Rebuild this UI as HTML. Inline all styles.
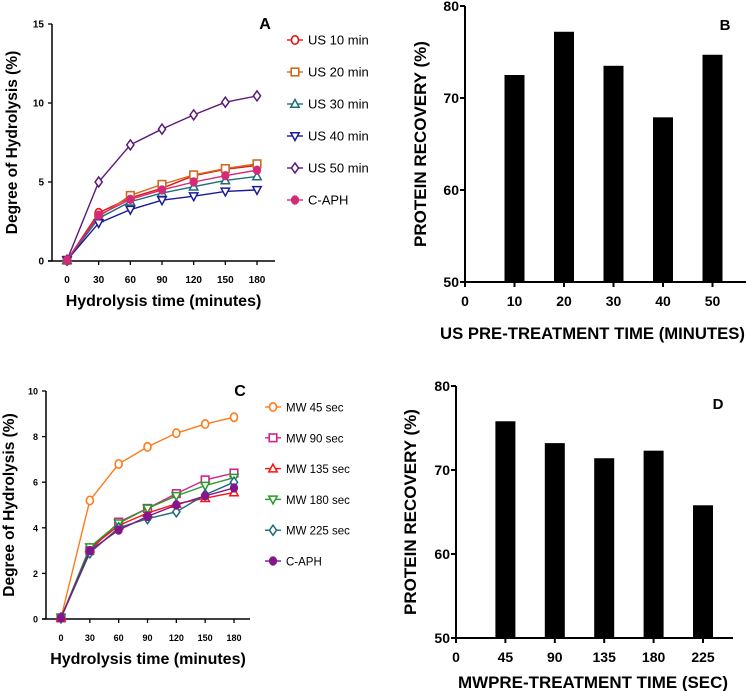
<!DOCTYPE html>
<html><head><meta charset="utf-8">
<style>
html,body{margin:0;padding:0;background:#fff;}
svg{display:block;font-family:"Liberation Sans",Arial,sans-serif;}
</style></head>
<body>
<svg id="fig" width="747" height="691" viewBox="0 0 747 691" xmlns="http://www.w3.org/2000/svg"></svg>
<script>
const timeCats = [0, 30, 60, 90, 120, 150, 180];
const us10 = [0.05, 3.05, 4.0, 4.6, 5.4, 5.8, 6.05];
const us20 = [0.05, 2.8, 4.15, 4.85, 5.45, 5.85, 6.15];
const us30 = [0.05, 2.7, 3.75, 4.3, 4.7, 5.1, 5.35];
const us40 = [0.05, 2.4, 3.25, 3.85, 4.1, 4.4, 4.5];
const us50 = [0.05, 5.0, 7.35, 8.35, 9.25, 10.05, 10.45];
const usCaph = [0.05, 2.9, 3.9, 4.5, 5.0, 5.4, 5.75];
const mw45 = [0.05, 5.2, 6.8, 7.55, 8.15, 8.55, 8.85];
const mw90 = [0.05, 3.0, 4.25, 4.85, 5.5, 6.1, 6.4];
const mw135 = [0.05, 3.1, 4.1, 4.65, 5.05, 5.3, 5.55];
const mw180 = [0.05, 3.15, 4.2, 4.85, 5.4, 5.85, 6.2];
const mw225 = [0.05, 2.9, 4.0, 4.4, 4.7, 5.45, 6.0];
const mwCaph = [0.05, 3.0, 3.9, 4.5, 5.0, 5.4, 5.75];
const yTicksA = [0, 5, 10, 15];
const yTicksC = [0, 2, 4, 6, 8, 10];
const usCats = [10, 20, 30, 40, 50];
const usRecovery = [72.5, 77.2, 73.5, 67.9, 74.7];
const mwCats = [45, 90, 135, 180, 225];
const mwRecovery = [75.8, 73.2, 71.4, 72.3, 65.8];
const recTicks = [50, 60, 70, 80];

const NS = "http://www.w3.org/2000/svg";
const svg = document.getElementById('fig');
function mk(tag, attrs, parent, text) {
  const e = document.createElementNS(NS, tag);
  for (const k in attrs) e.setAttribute(k, attrs[k]);
  if (text !== undefined) e.textContent = text;
  (parent || svg).appendChild(e);
  return e;
}
function txt(x, y, s, size, anchor, parent, extra) {
  const a = {x: x, y: y, 'font-size': size, 'font-weight': 'bold', 'text-anchor': anchor || 'middle', fill: '#000'};
  if (extra) for (const k in extra) a[k] = extra[k];
  return mk('text', a, parent, s);
}
function marker(g, shape, x, y, color, filled) {
  const f = filled ? color : '#fff';
  let e;
  if (shape === 'circle') e = mk('ellipse', {cx: x, cy: y, rx: 3.5, ry: 4.2, fill: f, stroke: color, 'stroke-width': 1.6}, g);
  else if (shape === 'square') e = mk('rect', {x: x - 3.8, y: y - 3.8, width: 7.6, height: 7.6, fill: f, stroke: color, 'stroke-width': 1.6}, g);
  else if (shape === 'tri') e = mk('polygon', {points: `${x},${y-4.5} ${x+4.2},${y+3.3} ${x-4.2},${y+3.3}`, fill: f, stroke: color, 'stroke-width': 1.5}, g);
  else if (shape === 'itri') e = mk('polygon', {points: `${x},${y+4.5} ${x+4.2},${y-3.3} ${x-4.2},${y-3.3}`, fill: f, stroke: color, 'stroke-width': 1.5}, g);
  else if (shape === 'diamond') e = mk('polygon', {points: `${x},${y-5} ${x+3.6},${y} ${x},${y+5} ${x-3.6},${y}`, fill: f, stroke: color, 'stroke-width': 1.5}, g);
  else e = mk('ellipse', {cx: x, cy: y, rx: 3.6, ry: 4.2, fill: color, stroke: color, 'stroke-width': 1}, g);
  
  
}

function lineChart(cfg) {
  const g = mk('g', {}); 
  
  
  const xS = v => cfg.x0 + (v - 0) / 180 * (cfg.x180 - cfg.x0);
  const yS = v => cfg.y0 + v / cfg.ymax * (cfg.ytop - cfg.y0);
  const ya = mk('line', {x1: cfg.ax, y1: cfg.ytop, x2: cfg.ax, y2: cfg.y0, stroke: '#000', 'stroke-width': 1.5}, g);
   
  const xa = mk('line', {x1: cfg.ax - 4, y1: cfg.y0, x2: cfg.xend, y2: cfg.y0, stroke: '#000', 'stroke-width': 1.5}, g);
   
  cfg.yticks.forEach(t => {
    mk('line', {x1: cfg.ax - 4, y1: yS(t), x2: cfg.ax, y2: yS(t), stroke: '#000', 'stroke-width': 1.3}, g);
    const l = txt(cfg.ax - 8, yS(t) + 3.5, String(t), cfg.tfs, 'end', g);
     
  });
  timeCats.forEach(t => {
    mk('line', {x1: xS(t), y1: cfg.y0, x2: xS(t), y2: cfg.y0 + 4, stroke: '#000', 'stroke-width': 1.3}, g);
    const l = txt(xS(t), cfg.y0 + 22, String(t), cfg.tfs, 'middle', g);
     
  });
  const xt = txt((cfg.ax + cfg.xend) / 2, cfg.y0 + 45, 'Hydrolysis time (minutes)', 16, 'middle', g);
   
  const yt = txt(0, 0, 'Degree of Hydrolysis (%)', 15.5, 'middle', g, {transform: `translate(${cfg.ytx},${(cfg.ytop + cfg.y0) / 2}) rotate(-90)`});
   
  const pl = txt(cfg.panelX, cfg.panelY, cfg.panel, 16, 'middle', g);
   
  cfg.series.forEach((s, i) => {
    const sg = mk('g', {}, g);
    
    
    const pts = s.data.map((v, j) => xS(timeCats[j]) + ',' + yS(v)).join(' ');
    const pln = mk('polyline', {points: pts, fill: 'none', stroke: s.color, 'stroke-width': 1.4}, sg);
     
    s.data.forEach((v, j) => marker(sg, s.shape, xS(timeCats[j]), yS(v), s.color, s.shape === 'dot'));
    const lg = mk('g', {}, g);
    
    
    const ly = cfg.legY + i * cfg.legDy;
    mk('line', {x1: cfg.legX - 8, y1: ly, x2: cfg.legX + 8, y2: ly, stroke: s.color, 'stroke-width': 1.4}, lg);
    marker(lg, s.shape, cfg.legX, ly, s.color, s.shape === 'dot');
    mk('text', {x: cfg.legX + 13, y: ly + 4.5, 'font-size': cfg.lfs, fill: '#000'}, lg, s.label);
  });
}

lineChart({name: 'chart-a-us-hydrolysis', ax: 52, x0: 67, x180: 257, xend: 275, y0: 261, ytop: 24, ymax: 15,
  yticks: yTicksA, tfs: 10, ytx: 17, panel: 'A', panelX: 265, panelY: 29, legX: 295, legY: 40, legDy: 32, lfs: 13,
  series: [
    {label: 'US 10 min', data: us10, color: '#ee1111', shape: 'circle'},
    {label: 'US 20 min', data: us20, color: '#cc6a1f', shape: 'square'},
    {label: 'US 30 min', data: us30, color: '#1e6e78', shape: 'tri'},
    {label: 'US 40 min', data: us40, color: '#1b1b99', shape: 'itri'},
    {label: 'US 50 min', data: us50, color: '#5b1a78', shape: 'diamond'},
    {label: 'C-APH', data: usCaph, color: '#d42a7a', shape: 'dot'}
  ]});
lineChart({name: 'chart-c-mw-hydrolysis', ax: 46, x0: 61, x180: 234, xend: 250, y0: 619, ytop: 391, ymax: 10,
  yticks: yTicksC, tfs: 9, ytx: 14, panel: 'C', panelX: 240, panelY: 396, legX: 273, legY: 407, legDy: 30.8, lfs: 11.5,
  series: [
    {label: 'MW 45 sec', data: mw45, color: '#ff7a1a', shape: 'circle'},
    {label: 'MW 90 sec', data: mw90, color: '#d0258a', shape: 'square'},
    {label: 'MW 135 sec', data: mw135, color: '#ff1111', shape: 'tri'},
    {label: 'MW 180 sec', data: mw180, color: '#2a9a2a', shape: 'itri'},
    {label: 'MW 225 sec', data: mw225, color: '#1e6a78', shape: 'diamond'},
    {label: 'C-APH', data: mwCaph, color: '#82168a', shape: 'dot'}
  ]});

function barChart(cfg) {
  const g = mk('g', {});
  
  
  const yS = v => cfg.y0 + (v - 50) / 30 * (cfg.ytop - cfg.y0);
  const xS = i => cfg.ax + (i + 1) * cfg.step;
  const ya = mk('line', {x1: cfg.ax, y1: cfg.ytop, x2: cfg.ax, y2: cfg.y0, stroke: '#000', 'stroke-width': 2}, g);
   
  cfg.values.forEach((v, i) => {
    const b = mk('rect', {x: xS(i) - 10, y: yS(v), width: 20, height: cfg.y0 - yS(v), fill: '#000'}, g);
    
    
  });
  const xa = mk('line', {x1: cfg.ax - 5, y1: cfg.y0, x2: cfg.xend, y2: cfg.y0, stroke: '#000', 'stroke-width': 2}, g);
   
  recTicks.forEach(t => {
    mk('line', {x1: cfg.ax - 5, y1: yS(t), x2: cfg.ax, y2: yS(t), stroke: '#000', 'stroke-width': 2}, g);
    const l = txt(cfg.ax - 6, yS(t) + 5, String(t), 14, 'end', g);
     
  });
  ['0'].concat(cfg.cats.map(String)).forEach((c, i) => {
    const x = cfg.ax + i * cfg.step;
    mk('line', {x1: x, y1: cfg.y0, x2: x, y2: cfg.y0 + 5, stroke: '#000', 'stroke-width': 2}, g);
    const l = txt(x, cfg.y0 + 24, c, 14, 'middle', g);
     
  });
  const xt = txt(cfg.titleX, cfg.titleY, cfg.xtitle, 17, 'start', g, {textLength: cfg.titleW, lengthAdjust: 'spacingAndGlyphs'});
   
  const yt = txt(0, 0, 'PROTEIN RECOVERY (%)', 17, 'middle', g, {transform: `translate(${cfg.ytx},${(cfg.ytop + cfg.y0) / 2}) rotate(-90)`});
   
  const pl = txt(cfg.panelX, cfg.panelY, cfg.panel, 15, 'middle', g);
   
}
barChart({name: 'chart-b-us-recovery', ax: 465, step: 49.5, y0: 282, ytop: 6, xend: 746, values: usRecovery, cats: usCats,
  xtitle: 'US PRE-TREATMENT TIME (MINUTES)', titleX: 440, titleW: 305, titleY: 339, ytx: 426, panel: 'B', panelX: 725, panelY: 30});
barChart({name: 'chart-d-mw-recovery', ax: 456, step: 49.4, y0: 638, ytop: 386, xend: 733, values: mwRecovery, cats: mwCats,
  xtitle: 'MWPRE-TREATMENT TIME (SEC)', titleX: 458, titleW: 270, titleY: 688, ytx: 416, panel: 'D', panelX: 718, panelY: 409});
</script>
</body></html>
